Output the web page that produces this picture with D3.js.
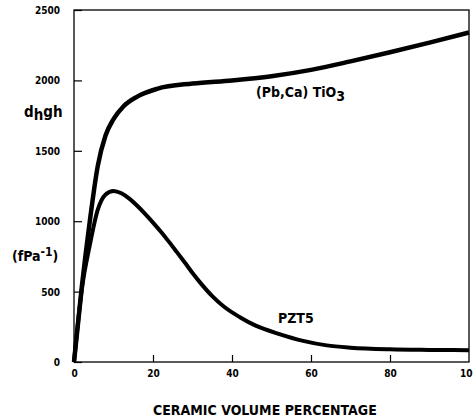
<!DOCTYPE html>
<html>
<head>
<meta charset="utf-8">
<script src="https://cdn.jsdelivr.net/npm/d3@7"></script>
<style>
  body { margin: 0; background: #fff; }
  text { font-family: 'DejaVu Sans Condensed', 'DejaVu Sans', sans-serif; font-stretch: condensed; font-weight: bold; fill: #000; }
</style>
</head>
<body>
<div id="chart"></div>
<script>
// ceramic volume percentage vs dh.gh
var tioX = [0, 2, 4, 6, 8, 10, 12.5, 16, 21, 30, 40, 50, 60, 70, 80, 90, 100];
var tioY = [0, 540, 1000, 1390, 1610, 1725, 1815, 1885, 1940, 1978, 2000, 2030, 2075, 2135, 2200, 2268, 2340];

var pztX = [0, 2, 4, 6, 8, 10, 12, 14, 16, 18, 20, 22, 24, 26, 28, 30, 32, 35, 38, 42, 46, 52, 58, 64, 70, 80, 90, 100];
var pztY = [0, 520, 830, 1080, 1190, 1215, 1198, 1160, 1110, 1052, 990, 925, 855, 782, 708, 632, 562, 468, 392, 318, 258, 198, 150, 118, 102, 90, 86, 84];

var xTicks = [0, 20, 40, 60, 80, 100];
var yTicks = [0, 500, 1000, 1500, 2000, 2500];

var width = 473,
    height = 420;

var plotLeft = 74,
    plotRight = 469,
    plotTop = 10,
    plotBottom = 362;

var svg = d3.select('#chart')
  .append('svg')
  .attr('width', width)
  .attr('height', height);

var x = d3.scaleLinear().domain([0, 100]).range([plotLeft, plotRight]);
var y = d3.scaleLinear().domain([0, 2500]).range([plotBottom, plotTop]);

// frame
svg.append('rect')
  .attr('x', plotLeft)
  .attr('y', plotTop)
  .attr('width', plotRight - plotLeft)
  .attr('height', plotBottom - plotTop)
  .style('fill', 'none')
  .style('stroke', '#000')
  .style('stroke-width', 1.3);

// y axis, ticks pointing inward
var yAxis = d3.axisLeft(y)
  .tickValues(yTicks)
  .tickSize(-8)
  .tickPadding(14)
  .tickFormat(d3.format('d'));

var gy = svg.append('g')
  .attr('transform', 'translate(' + plotLeft + ',0)')
  .call(yAxis);

gy.select('.domain').remove();
gy.selectAll('line').style('stroke', '#000').style('stroke-width', 1.2);
gy.selectAll('text').style('font-size', '10px').attr('dy', '0.35em');

// x axis, ticks pointing up
var xAxis = d3.axisBottom(x)
  .tickValues(xTicks)
  .tickSize(-7)
  .tickFormat(d3.format('d'));

var gx = svg.append('g')
  .attr('transform', 'translate(0,' + plotBottom + ')')
  .call(xAxis);

gx.select('.domain').remove();
gx.selectAll('line').style('stroke', '#000').style('stroke-width', 1.2);
gx.selectAll('.tick').filter(function(d) { return d == 0 || d == 100; }).select('line').remove();
gx.selectAll('text').style('font-size', '10px').attr('y', 8);

// curves
var line = d3.line()
  .x(function(d) { return x(d[0]); })
  .y(function(d) { return y(d[1]); })
  .curve(d3.curveMonotoneX);

svg.append('path')
  .datum(d3.zip(tioX, tioY))
  .attr('d', line)
  .style('fill', 'none')
  .style('stroke', '#000')
  .style('stroke-width', 4.5)
  .style('stroke-linejoin', 'round');

svg.append('path')
  .datum(d3.zip(pztX, pztY))
  .attr('d', line)
  .style('fill', 'none')
  .style('stroke', '#000')
  .style('stroke-width', 4)
  .style('stroke-linejoin', 'round');

// curve labels
var tioLabel = svg.append('text')
  .attr('x', 256)
  .attr('y', 97)
  .style('font-size', '14px');
tioLabel.append('tspan').text('(Pb,Ca) TiO');
tioLabel.append('tspan').attr('dy', 4).text('3');

svg.append('text')
  .attr('x', 278)
  .attr('y', 323)
  .style('font-size', '14px')
  .text('PZT5');

// axis titles
var dLabel = svg.append('text')
  .attr('x', 24)
  .attr('y', 117)
  .style('font-size', '15px');
dLabel.append('tspan').text('d');
dLabel.append('tspan').attr('dy', 3).text('h');
dLabel.append('tspan').attr('dy', -3).text('gh');

var uLabel = svg.append('text')
  .attr('x', 12)
  .attr('y', 261)
  .style('font-size', '14px');
uLabel.append('tspan').text('(fPa');
uLabel.append('tspan').attr('dy', -5).style('font-size', '12px').text('-1');
uLabel.append('tspan').attr('dy', 5).text(')');

svg.append('text')
  .attr('x', 153)
  .attr('y', 415)
  .style('font-size', '14px')
  .text('CERAMIC VOLUME PERCENTAGE');
</script>
</body>
</html>
